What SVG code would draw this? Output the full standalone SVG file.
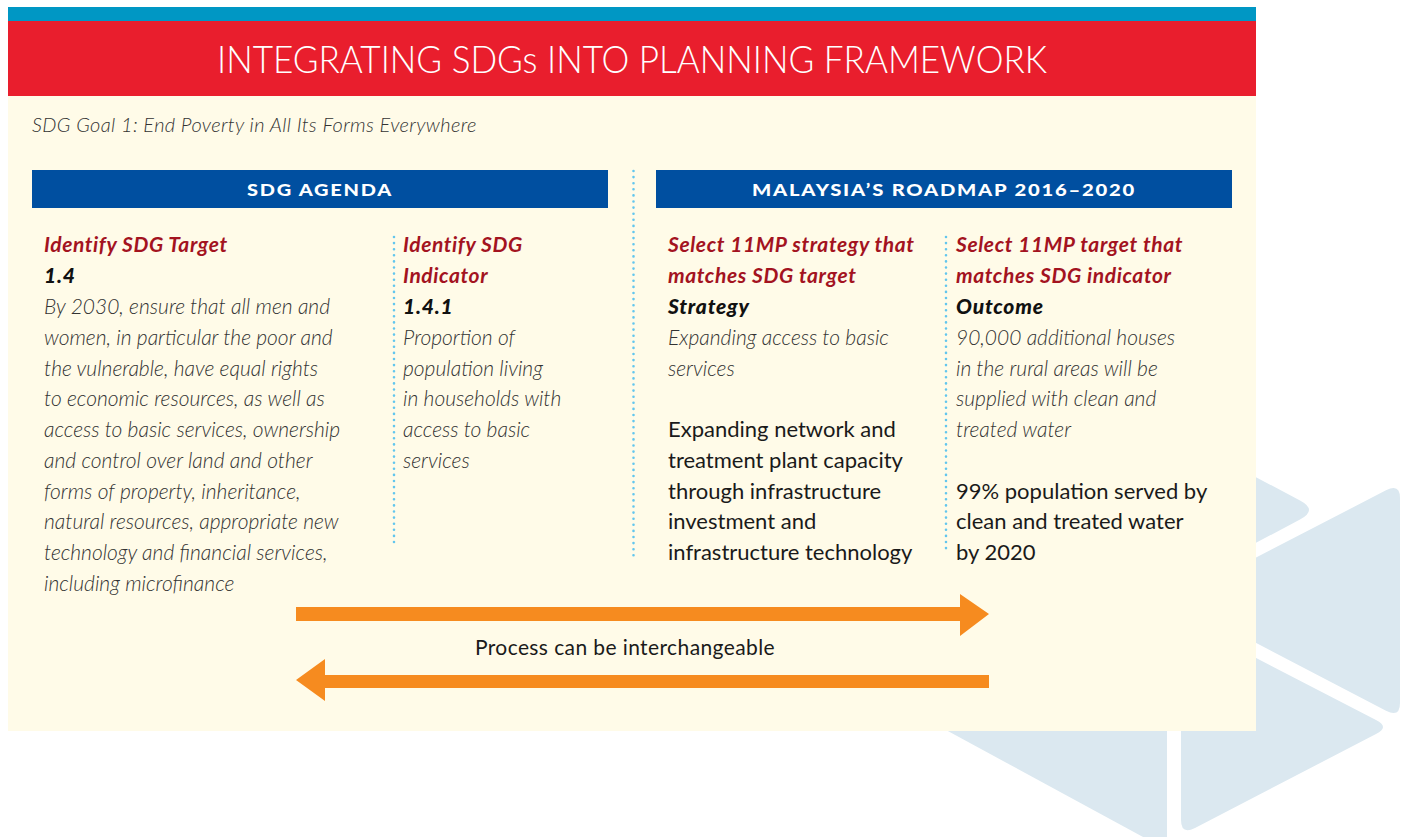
<svg xmlns="http://www.w3.org/2000/svg" width="1413" height="837" viewBox="0 0 1413 837">
<style>
.logo{fill:#dbe8f0}
.title{font-family:Lato,"Liberation Sans",sans-serif;font-weight:300;font-size:38px;fill:#fff;text-anchor:middle}
.hdr{font-family:Lato,"Liberation Sans",sans-serif;font-weight:900;font-size:17px;fill:#fff;text-anchor:middle;letter-spacing:1.5px}
.sub{font-family:Lato,"Liberation Sans",sans-serif;font-style:italic;font-weight:300;font-size:20px;letter-spacing:0.35px;fill:#333}
.red{font-family:Lato,"Liberation Sans",sans-serif;font-style:italic;font-weight:700;font-size:21px;letter-spacing:0.6px;fill:#a3131f}
.bk{font-family:Lato,"Liberation Sans",sans-serif;font-style:italic;font-weight:900;font-size:21px;letter-spacing:0.8px;fill:#111}
.it{font-family:Lato,"Liberation Sans",sans-serif;font-style:italic;font-weight:300;font-size:21px;fill:#333}
.rg{font-family:Lato,"Liberation Sans",sans-serif;font-weight:400;font-size:22px;fill:#1a1a1a}
.cap{font-family:Lato,"Liberation Sans",sans-serif;font-weight:400;font-size:21px;letter-spacing:0.4px;fill:#1a1a1a;text-anchor:middle}
.dots{stroke:#62c6ee;stroke-width:2.6;stroke-dasharray:0 6.1;stroke-linecap:round;fill:none}
.arrow{fill:#f68b1f}
</style>
<g id="logo-background">
<path class="logo" d="M1150,421 L1300,500.5 Q1318,510 1300,519.5 L1150,599 Z"/>
<path class="logo" d="M1174,600 L1386,490.3 Q1400,483 1400,498 L1400,703 Q1400,718 1386,710.7 Z"/>
<path class="logo" d="M1167,619 L1167,850 L946,730 Z"/>
<path class="logo" d="M1181,635 Q1181,619 1195,626.3 L1376,720 Q1390,727 1376,734 L1195,828 Q1181,835 1181,820 Z"/>
</g>
<g id="panel">
<rect x="8" y="96" width="1248" height="635" fill="#fffbe8"/>
<rect x="8" y="7" width="1248" height="14" fill="#0097c4"/>
<rect x="8" y="21" width="1248" height="75" fill="#e91e2d"/>
<text class="title" x="632" y="73" textLength="830" lengthAdjust="spacingAndGlyphs">INTEGRATING SDGs INTO PLANNING FRAMEWORK</text>
<text class="sub" x="32" y="132">SDG Goal 1: End Poverty in All Its Forms Everywhere</text>
</g>
<g id="sdg-agenda-header">
<rect x="32" y="170" width="576" height="38" fill="#004fa0"/>
<text class="hdr" x="320" y="196" textLength="146" lengthAdjust="spacingAndGlyphs">SDG AGENDA</text>
</g>
<g id="roadmap-header">
<rect x="656" y="170" width="576" height="38" fill="#004fa0"/>
<text class="hdr" x="944" y="196" textLength="384" lengthAdjust="spacingAndGlyphs">MALAYSIA’S ROADMAP 2016–2020</text>
</g>
<g id="dividers">
<line class="dots" x1="633.5" y1="171" x2="633.5" y2="560"/>
<line class="dots" x1="394" y1="237" x2="394" y2="544"/>
<line class="dots" x1="946" y1="237" x2="946" y2="550"/>
</g>
<g id="sdg-target">
<text class="red" x="44" y="252">Identify SDG Target</text>
<text class="bk" x="44" y="283">1.4</text>
<text class="it" x="44" y="314">By 2030, ensure that all men and</text>
<text class="it" x="44" y="345">women, in particular the poor and</text>
<text class="it" x="44" y="375.5">the vulnerable, have equal rights</text>
<text class="it" x="44" y="406">to economic resources, as well as</text>
<text class="it" x="44" y="437">access to basic services, ownership</text>
<text class="it" x="44" y="468">and control over land and other</text>
<text class="it" x="44" y="498.5">forms of property, inheritance,</text>
<text class="it" x="44" y="529">natural resources, appropriate new</text>
<text class="it" x="44" y="560">technology and financial services,</text>
<text class="it" x="44" y="591">including microfinance</text>
</g>
<g id="sdg-indicator">
<text class="red" x="403" y="252">Identify SDG</text>
<text class="red" x="403" y="283">Indicator</text>
<text class="bk" x="403" y="314">1.4.1</text>
<text class="it" x="403" y="345">Proportion of</text>
<text class="it" x="403" y="375.5">population living</text>
<text class="it" x="403" y="406">in households with</text>
<text class="it" x="403" y="437">access to basic</text>
<text class="it" x="403" y="468">services</text>
</g>
<g id="mp-strategy">
<text class="red" x="668" y="252">Select 11MP strategy that</text>
<text class="red" x="668" y="283">matches SDG target</text>
<text class="bk" x="668" y="314">Strategy</text>
<text class="it" x="668" y="345">Expanding access to basic</text>
<text class="it" x="668" y="375.5">services</text>
<text class="rg" x="668" y="437">Expanding network and</text>
<text class="rg" x="668" y="468">treatment plant capacity</text>
<text class="rg" x="668" y="498.5">through infrastructure</text>
<text class="rg" x="668" y="529">investment and</text>
<text class="rg" x="668" y="560">infrastructure technology</text>
</g>
<g id="mp-target">
<text class="red" x="956" y="252">Select 11MP target that</text>
<text class="red" x="956" y="283">matches SDG indicator</text>
<text class="bk" x="956" y="314">Outcome</text>
<text class="it" x="956" y="345">90,000 additional houses</text>
<text class="it" x="956" y="375.5">in the rural areas will be</text>
<text class="it" x="956" y="406">supplied with clean and</text>
<text class="it" x="956" y="437">treated water</text>
<text class="rg" x="956" y="498.5">99% population served by</text>
<text class="rg" x="956" y="529">clean and treated water</text>
<text class="rg" x="956" y="560">by 2020</text>
</g>
<g id="connectors">
<path class="arrow" d="M296,607 H960 V594 L989,614 L960,636 V621 H296 Z"/>
<path class="arrow" d="M989,675 H325 V659 L296,680 L325,701 V688 H989 Z"/>
<text class="cap" x="625" y="655">Process can be interchangeable</text>
</g>
</svg>
